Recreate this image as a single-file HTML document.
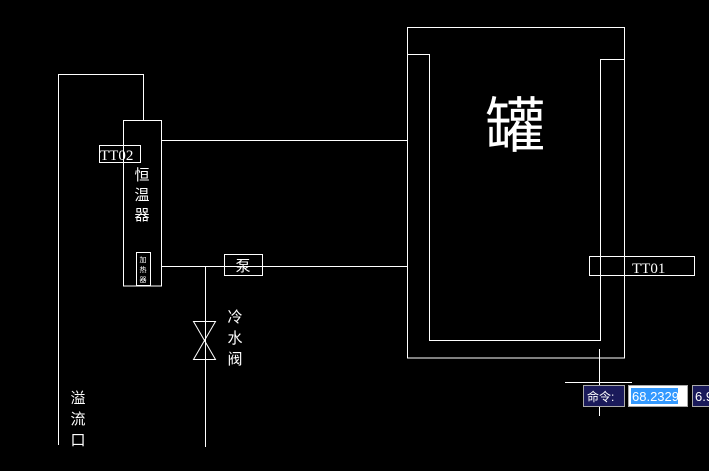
<!DOCTYPE html>
<html><head><meta charset="utf-8"><style>
html,body{margin:0;padding:0;background:#000;width:709px;height:471px;overflow:hidden}
svg{display:block}
text{font-family:"Liberation Sans","Noto Sans CJK SC",sans-serif;fill:#fff}
</style></head><body>
<svg width="709" height="471" viewBox="0 0 709 471">
<g stroke="#fff" stroke-width="1" fill="none">
<rect x="407.5" y="27.5" width="217" height="330.5"/>
<polyline points="407.5,54.5 429.5,54.5 429.5,340.5 600.5,340.5 600.5,59.5 624.5,59.5"/>
<polyline points="58.5,445 58.5,74.5 143.5,74.5 143.5,120"/>
<rect x="123.5" y="120.5" width="38" height="165.5"/>
<rect x="136.5" y="252.5" width="14" height="33"/>
<rect x="99.5" y="145.5" width="41" height="17"/>
<line x1="161.5" y1="140.5" x2="407.5" y2="140.5"/>
<line x1="161.5" y1="266.5" x2="407.5" y2="266.5"/>
<rect x="224.5" y="254.5" width="38" height="21"/>
<line x1="205.5" y1="266.5" x2="205.5" y2="447"/>
<polygon points="193.5,321.5 215.5,321.5 193.5,359.5 215.5,359.5"/>
<rect x="589.5" y="256.5" width="105" height="19"/>
<line x1="599.5" y1="349" x2="599.5" y2="416"/>
<line x1="565" y1="382.5" x2="632" y2="382.5"/>
</g>
<text x="515" y="147" font-size="60" text-anchor="middle">罐</text>
<text x="100" y="160" style="font-family:'Liberation Serif',serif;font-size:15px">TT02</text>
<text x="142" y="180" font-size="15" text-anchor="middle">恒</text>
<text x="142" y="200" font-size="15" text-anchor="middle">温</text>
<text x="142" y="220" font-size="15" text-anchor="middle">器</text>
<text x="143" y="262" font-size="7" text-anchor="middle" fill="#cc8">加</text>
<text x="143" y="272" font-size="7" text-anchor="middle" fill="#cc8">热</text>
<text x="143" y="282" font-size="7" text-anchor="middle" fill="#cc8">器</text>
<text x="243" y="271" font-size="15" text-anchor="middle">泵</text>
<text x="235" y="322" font-size="15" text-anchor="middle">冷</text>
<text x="235" y="343" font-size="15" text-anchor="middle">水</text>
<text x="235" y="364" font-size="15" text-anchor="middle">阀</text>
<text x="78" y="403" font-size="15" text-anchor="middle">溢</text>
<text x="78" y="424" font-size="15" text-anchor="middle">流</text>
<text x="78" y="445" font-size="15" text-anchor="middle">口</text>
<text x="632" y="273" style="font-family:'Liberation Serif',serif;font-size:15px">TT01</text>
<rect x="583.5" y="385.5" width="41" height="21" fill="#1a1a5a" stroke="#aaa"/>
<text x="587" y="401" font-size="12" fill="#dde">命令:</text>
<rect x="628.5" y="385.5" width="59" height="21" fill="#fff" stroke="#aaa"/>
<rect x="631" y="388" width="47" height="16" fill="#3399ff"/>
<text x="632" y="401" font-size="13" fill="#fff">68.2329</text>
<rect x="692.5" y="385.5" width="20" height="21" fill="#1a1a5a" stroke="#aaa"/>
<text x="695" y="401" font-size="13" fill="#dde">6.9</text>
</svg>
</body></html>
